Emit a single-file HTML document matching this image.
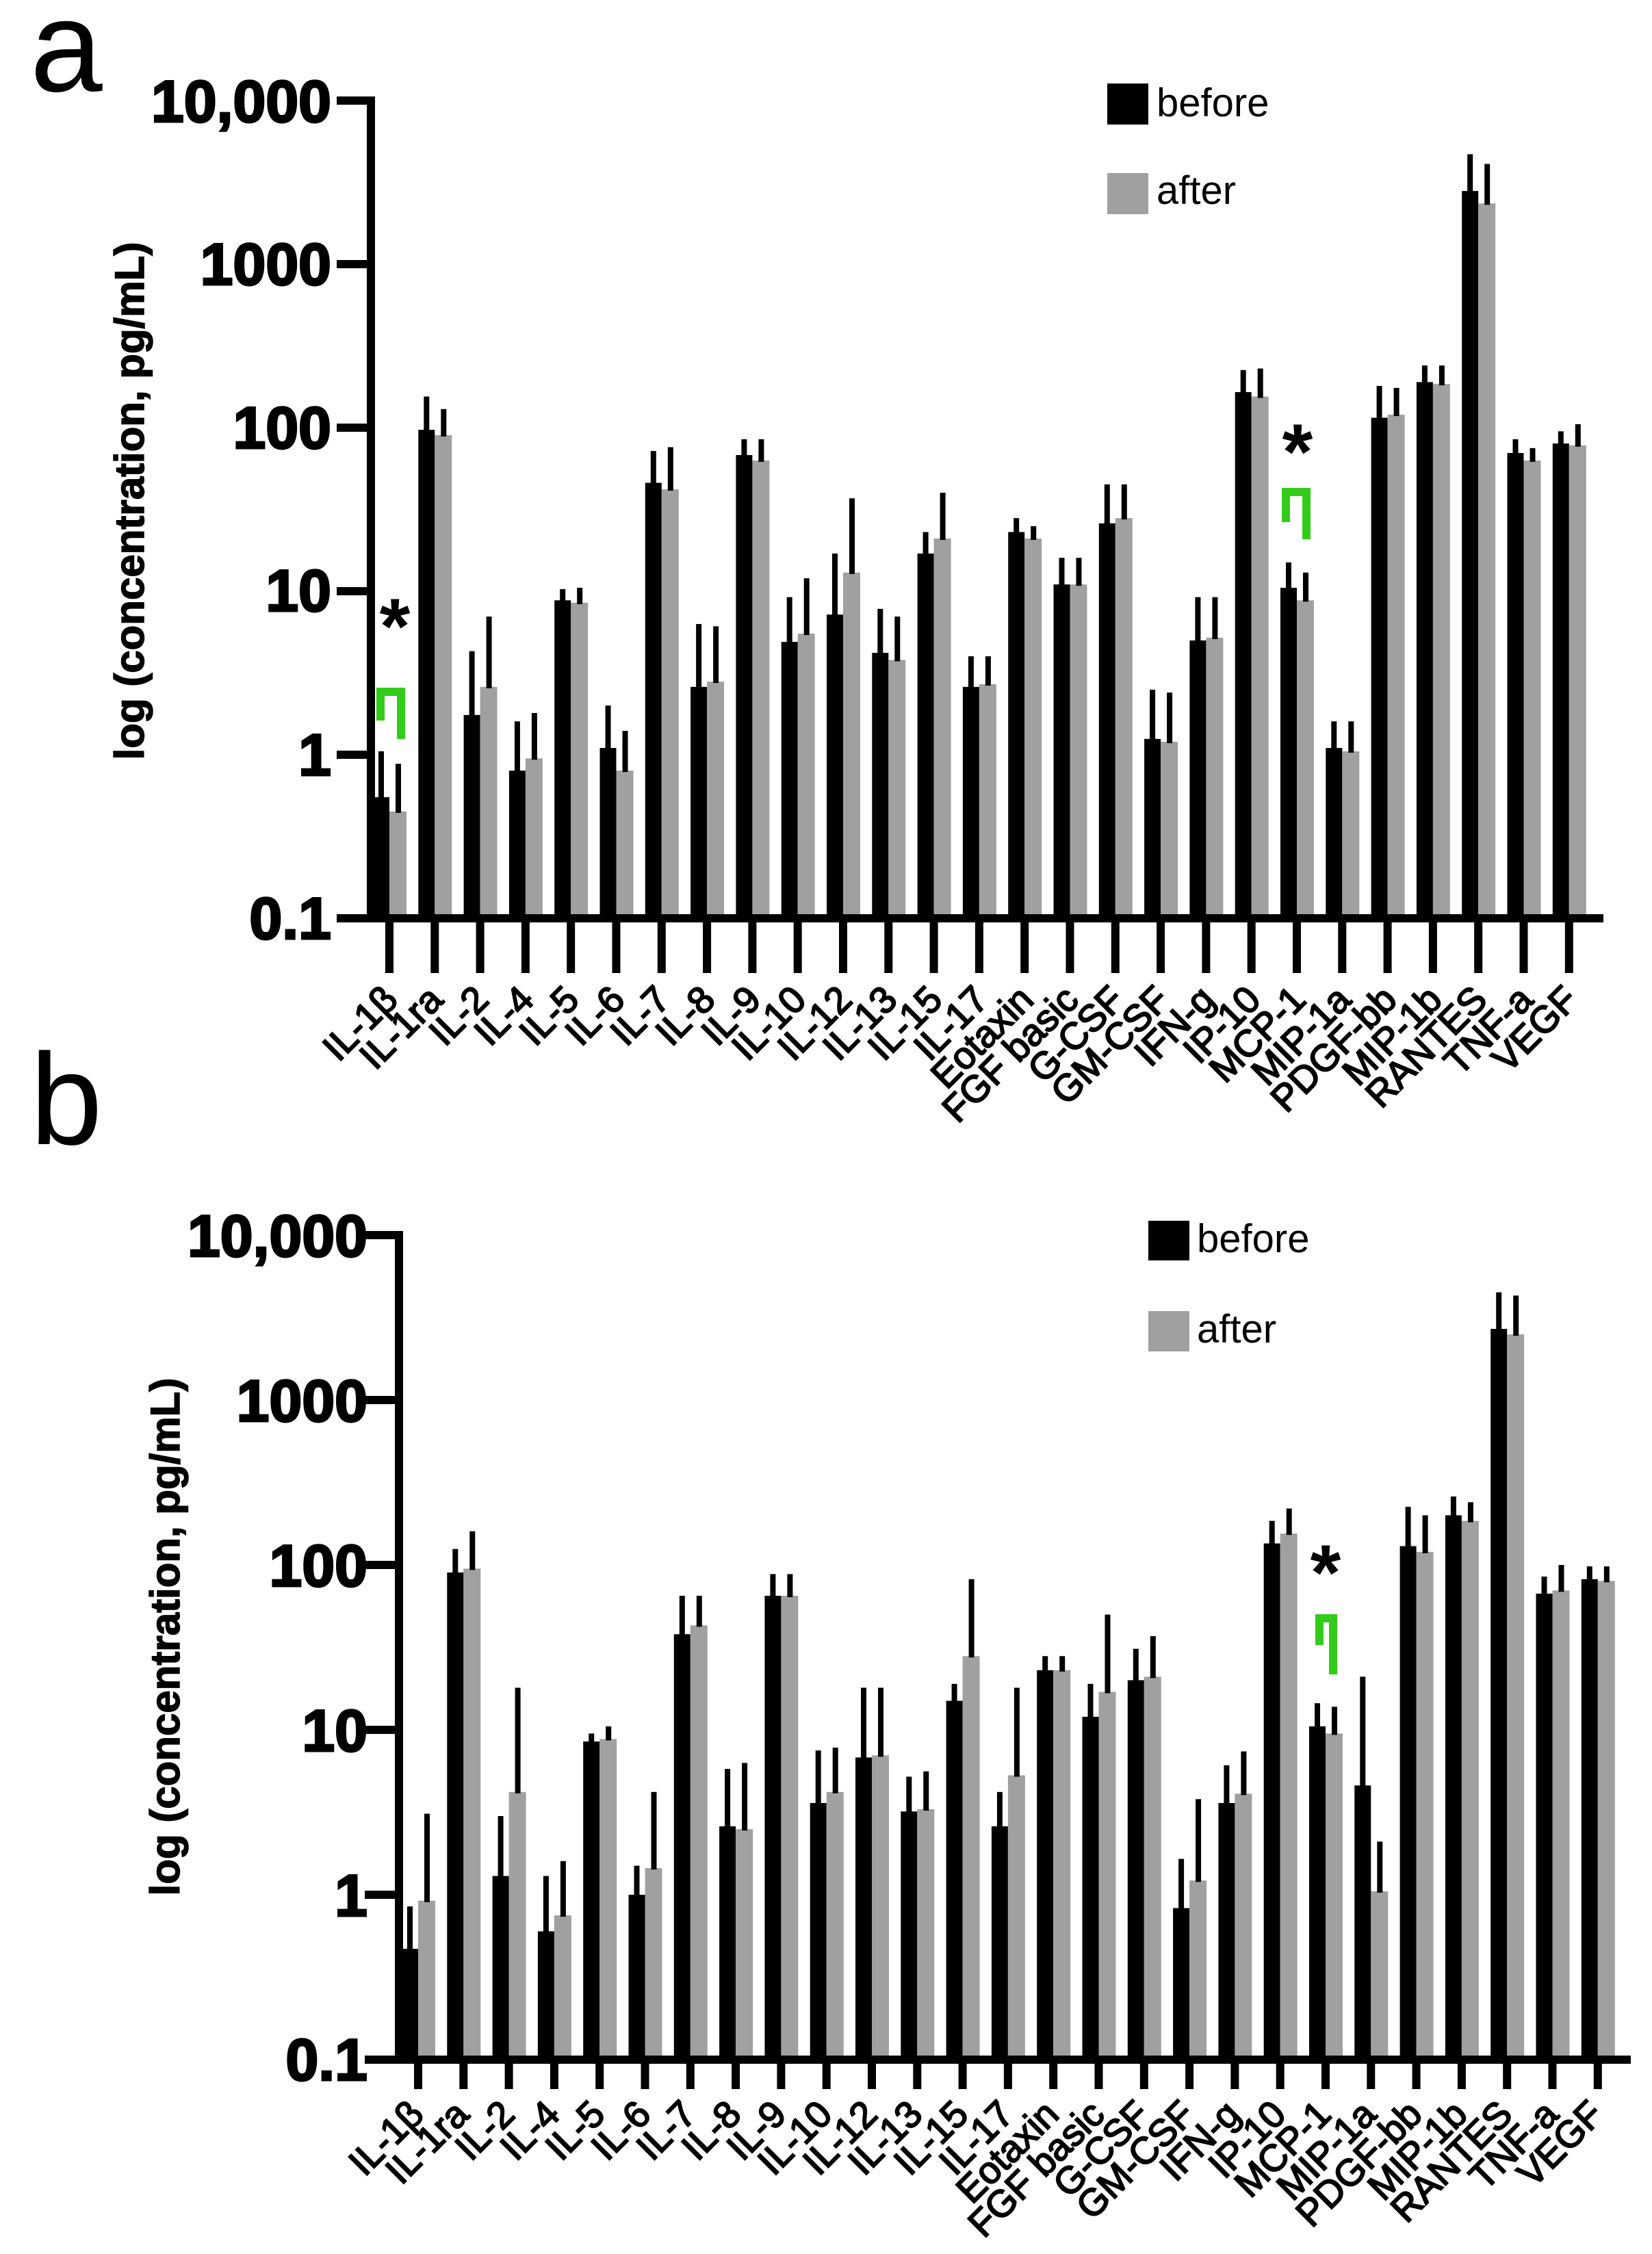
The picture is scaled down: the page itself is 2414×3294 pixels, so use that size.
<!DOCTYPE html>
<html><head><meta charset="utf-8">
<style>
html,body{margin:0;padding:0;background:#fff;}
svg{display:block;}
text{font-family:"Liberation Sans",Arial,sans-serif;}
.tk{font-weight:bold;font-size:86px;stroke:#000;stroke-width:3;}
.yt{font-weight:bold;font-size:60px;stroke:#000;stroke-width:1.5;}
.cl{font-size:55px;stroke:#000;stroke-width:2;}
.lg{font-size:58px;}
.pl{font-size:190px;}
.st{font-weight:bold;font-size:115px;}
</style></head>
<body>
<svg id="s" width="2414" height="3294" viewBox="0 0 2414 3294" xmlns="http://www.w3.org/2000/svg">
<rect width="2414" height="3294" fill="#fff"/>
<text class="pl" x="44" y="133">a</text>
<text class="pl" x="44" y="1672">b</text>

<g class="tk" text-anchor="end">
<text x="484" y="178">10,000</text>
<text x="484" y="416">1000</text>
<text x="484" y="655">100</text>
<text x="484" y="893">10</text>
<text x="484" y="1133">1</text>
<text x="484" y="1372">0.1</text>
</g>
<text class="yt" text-anchor="middle" transform="translate(210,732) rotate(-90)">log (concentration, pg/mL)</text>

<g class="tk" text-anchor="end">
<text x="537" y="1836">10,000</text>
<text x="537" y="2077">1000</text>
<text x="537" y="2318">100</text>
<text x="537" y="2559">10</text>
<text x="537" y="2800">1</text>
<text x="537" y="3040">0.1</text>
</g>
<text class="yt" text-anchor="middle" transform="translate(262,2392) rotate(-90)">log (concentration, pg/mL)</text>

<rect x="1618" y="122" width="60" height="60" fill="#000"/>
<rect x="1618" y="253" width="60" height="60" fill="#a0a0a0"/>
<text class="lg" x="1690" y="170">before</text>
<text class="lg" x="1690" y="298">after</text>
<rect x="1678" y="1784" width="60" height="58" fill="#000"/>
<rect x="1678" y="1916" width="60" height="59" fill="#a0a0a0"/>
<text class="lg" x="1749" y="1830">before</text>
<text class="lg" x="1749" y="1962">after</text>

<text class="st" x="577" y="955" text-anchor="middle">*</text>
<text class="st" x="1896" y="700" text-anchor="middle">*</text>
<text class="st" x="1937" y="2338" text-anchor="middle">*</text>

<g class="cl" text-anchor="end">
<text transform="translate(584,1464) rotate(-45)">IL-1β</text>
<text transform="translate(650,1464) rotate(-45)">IL-1ra</text>
<text transform="translate(717,1464) rotate(-45)">IL-2</text>
<text transform="translate(783,1464) rotate(-45)">IL-4</text>
<text transform="translate(849,1464) rotate(-45)">IL-5</text>
<text transform="translate(916,1464) rotate(-45)">IL-6</text>
<text transform="translate(982,1464) rotate(-45)">IL-7</text>
<text transform="translate(1048,1464) rotate(-45)">IL-8</text>
<text transform="translate(1115,1464) rotate(-45)">IL-9</text>
<text transform="translate(1181,1464) rotate(-45)">IL-10</text>
<text transform="translate(1248,1464) rotate(-45)">IL-12</text>
<text transform="translate(1314,1464) rotate(-45)">IL-13</text>
<text transform="translate(1380,1464) rotate(-45)">IL-15</text>
<text transform="translate(1447,1464) rotate(-45)">IL-17</text>
<text transform="translate(1513,1464) rotate(-45)">Eotaxin</text>
<text transform="translate(1579,1464) rotate(-45)">FGF basic</text>
<text transform="translate(1646,1464) rotate(-45)">G-CSF</text>
<text transform="translate(1712,1464) rotate(-45)">GM-CSF</text>
<text transform="translate(1778,1464) rotate(-45)">IFN-g</text>
<text transform="translate(1845,1464) rotate(-45)">IP-10</text>
<text transform="translate(1911,1464) rotate(-45)">MCP-1</text>
<text transform="translate(1977,1464) rotate(-45)">MIP-1a</text>
<text transform="translate(2044,1464) rotate(-45)">PDGF-bb</text>
<text transform="translate(2110,1464) rotate(-45)">MIP-1b</text>
<text transform="translate(2176,1464) rotate(-45)">RANTES</text>
<text transform="translate(2243,1464) rotate(-45)">TNF-a</text>
<text transform="translate(2309,1464) rotate(-45)">VEGF</text>
</g>
<g class="cl" text-anchor="end">
<text transform="translate(622,3093) rotate(-45)">IL-1β</text>
<text transform="translate(688,3093) rotate(-45)">IL-1ra</text>
<text transform="translate(755,3093) rotate(-45)">IL-2</text>
<text transform="translate(821,3093) rotate(-45)">IL-4</text>
<text transform="translate(887,3093) rotate(-45)">IL-5</text>
<text transform="translate(954,3093) rotate(-45)">IL-6</text>
<text transform="translate(1020,3093) rotate(-45)">IL-7</text>
<text transform="translate(1086,3093) rotate(-45)">IL-8</text>
<text transform="translate(1152,3093) rotate(-45)">IL-9</text>
<text transform="translate(1219,3093) rotate(-45)">IL-10</text>
<text transform="translate(1285,3093) rotate(-45)">IL-12</text>
<text transform="translate(1351,3093) rotate(-45)">IL-13</text>
<text transform="translate(1418,3093) rotate(-45)">IL-15</text>
<text transform="translate(1484,3093) rotate(-45)">IL-17</text>
<text transform="translate(1550,3093) rotate(-45)">Eotaxin</text>
<text transform="translate(1617,3093) rotate(-45)">FGF basic</text>
<text transform="translate(1683,3093) rotate(-45)">G-CSF</text>
<text transform="translate(1749,3093) rotate(-45)">GM-CSF</text>
<text transform="translate(1815,3093) rotate(-45)">IFN-g</text>
<text transform="translate(1882,3093) rotate(-45)">IP-10</text>
<text transform="translate(1948,3093) rotate(-45)">MCP-1</text>
<text transform="translate(2014,3093) rotate(-45)">MIP-1a</text>
<text transform="translate(2081,3093) rotate(-45)">PDGF-bb</text>
<text transform="translate(2147,3093) rotate(-45)">MIP-1b</text>
<text transform="translate(2213,3093) rotate(-45)">RANTES</text>
<text transform="translate(2280,3093) rotate(-45)">TNF-a</text>
<text transform="translate(2346,3093) rotate(-45)">VEGF</text>
</g>
<g id="g"></g>
</svg>
<script>
(function(){
var NS="http://www.w3.org/2000/svg",G=document.getElementById("g");
function R(x,y,w,h,f){var r=document.createElementNS(NS,"rect");r.setAttribute("x",x);r.setAttribute("y",y);r.setAttribute("width",w);r.setAttribute("height",h);r.setAttribute("fill",f);G.appendChild(r);}
var A=[[0.55,1.05,0.45,0.88],[97,155,90,130],[1.75,4.3,2.6,7],[0.8,1.6,0.95,1.8],[8.8,10.3,8.5,10.5],[1.1,2,0.8,1.4],[46,72,42,76],[2.6,6.3,2.8,6.1],[68,85,63,85],[4.9,9.2,5.5,12],[7.2,17,13,37],[4.2,7.8,3.8,7],[17,23,21,40],[2.6,4,2.7,4],[23,28,21,25],[11,16,11,16],[26,45,28,45],[1.25,2.5,1.2,2.4],[5,9.2,5.2,9.2],[165,225,155,230],[10.5,15,8.8,13],[1.1,1.6,1.05,1.6],[115,180,120,175],[190,240,185,240],[2800,4700,2350,4100],[70,85,63,75],[80,95,78,105]];
var B=[[0.47,0.85,0.92,3.1],[90,125,95,160],[1.3,3,4.2,18],[0.6,1.3,0.75,1.6],[8.5,9.5,8.8,10.5],[1,1.5,1.45,4.2],[38,65,43,65],[2.6,5.8,2.5,6.3],[65,88,65,88],[3.6,7.5,4.2,7.8],[6.8,18,7,18],[3.2,5.2,3.3,5.6],[15,19,28,82],[2.6,4.2,5.3,18],[23,28,23,28],[12,19,17,50],[20,31,21,37],[0.83,1.65,1.22,3.8],[3.6,6.1,4.1,7.4],[135,185,155,220],[10.5,14.5,9.5,13.8],[4.6,21,1.05,2.1],[130,225,120,200],[200,260,185,240],[2700,4500,2500,4300],[67,85,70,100],[82,98,80,98]];
function panel(D,ax,y0,dec,t0,sp,xend,tlen){
 function Y(v){return y0-(Math.log10(v)+1)*dec;}
 for(var i=0;i<27;i++){var t=t0+i*sp,d=D[i];
  var yb=Y(d[0]),eb=Y(d[1]),ya=Y(d[2]),ea=Y(d[3]);
  R(t-24,yb,24,y0-yb,"#000");R(t-16,eb,8,yb-eb+2,"#000");
  R(t,ya,25,y0-ya,"#a0a0a0");R(t+9,ea,8,ya-ea+2,"#000");
  R(t-6,y0,12,tlen,"#000");
 }
 R(ax-6,y0-5*dec-6,12,5*dec+12,"#000");
 for(var k=0;k<=5;k++)R(ax-50,y0-k*dec-6,50,12,"#000");
 R(ax-6,y0-6,xend-ax+6,12,"#000");
}
panel(A,542,1342,239,569,66.3,2343,80);
panel(B,583,3010,241,611,66.3,2383,43);
function br(x,y,w,h1,h2){R(x,y,w,12,"#33cc1a");R(x,y,12,h1,"#33cc1a");R(x+w-12,y,12,h2,"#33cc1a");}
br(550,1005,42,48,75);
br(1873,713,42,50,75);
br(1922,2359,32,45,88);
})();
</script>
</body></html>
